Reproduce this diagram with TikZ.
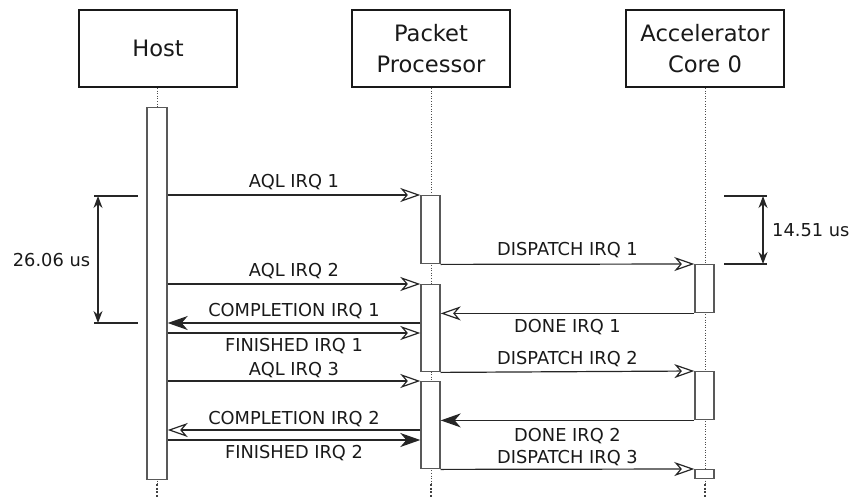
\documentclass[tikz,border=0pt]{standalone}
\usepackage{fontspec}
\setmainfont{DejaVu Sans}
\usetikzlibrary{arrows.meta}
\begin{document}
\begin{tikzpicture}[x=1pt,y=-1pt,
  actor/.style={draw=black!90, line width=2.2pt, fill=white, minimum width=158pt, minimum height=77pt, align=center, font=\fontsize{22.6}{31}\selectfont, inner sep=0pt, text=black!90},
  bar/.style={draw=black!65, line width=1.4pt, fill=white, minimum width=19pt, inner sep=0pt, anchor=north},
  life/.style={draw=black!70, line width=0.6pt, dotted},
  enddots/.style={draw=black!75, line width=2pt, dash pattern=on 2pt off 1.6pt},
  msg/.style={draw=black!85, line width=1.2pt},
  openhead/.style={-{Stealth[open, length=20pt, width=14pt, inset=6pt, line width=1.2pt]}},
  fillhead/.style={-{Stealth[length=20pt, width=14pt, inset=6pt]}},
  lbl/.style={font=\fontsize{17.8}{20}\selectfont, inner sep=0pt, text height=13pt, text depth=0pt, text=black!90},
  tick/.style={draw=black!85, line width=1.4pt},
  dim/.style={draw=black!85, line width=1.3pt, {Stealth[length=12pt, width=9pt]}-{Stealth[length=12pt, width=9pt]}},
]
\useasboundingbox (0,0) rectangle (861,497);

% actors
\node[actor] (host) at (158,48.5) {Host};
\node[actor] (pp) at (431,48.5) {Packet\\Processor};
\node[actor] (acc) at (705,48.5) {Accelerator\\Core 0};

% lifeline end points
\coordinate (hdots) at (157,484);
\coordinate (hend) at (157,497);
\coordinate (pdots) at (431,484);
\coordinate (pend) at (431,497);
\coordinate (adots) at (705,484);
\coordinate (aend) at (705,497);

% lifelines
\draw[life] (host.south -| hdots) -- (hdots);
\draw[enddots] (hdots) -- (hend);
\draw[life] (pp.south -| pdots) -- (pdots);
\draw[enddots] (pdots) -- (pend);
\draw[life] (acc.south -| adots) -- (adots);
\draw[enddots] (adots) -- (aend);

% activation bars
\node[bar, minimum width=20pt, minimum height=372pt] (hb) at (157,107) {};
\node[bar, minimum height=68pt] (pb1) at (430.5,195) {};
\node[bar, minimum height=87pt] (pb2) at (430.5,284) {};
\node[bar, minimum height=87pt] (pb3) at (430.5,381) {};
\node[bar, minimum height=48pt] (ab1) at (704.5,264) {};
\node[bar, minimum height=48pt] (ab2) at (704.5,371) {};
\node[bar, minimum height=9pt] (ab3) at (704.5,469) {};

% message levels
\coordinate (c1) at (0,323);
\coordinate (f1) at (0,333);
\coordinate (c2) at (0,430);
\coordinate (f2) at (0,440);

% host <-> packet processor
\draw[msg, openhead] (hb.east |- pb1.north) -- node[lbl, midway, yshift=14pt] {AQL IRQ 1} (pb1.north west);
\draw[msg, openhead] (hb.east |- pb2.north) -- node[lbl, midway, yshift=14pt] {AQL IRQ 2} (pb2.north west);
\draw[msg, fillhead] (pb2.west |- c1) -- node[lbl, midway, yshift=13pt] {COMPLETION IRQ 1} (hb.east |- c1);
\draw[msg, openhead] (hb.east |- f1) -- node[lbl, midway, yshift=-12pt] {FINISHED IRQ 1} (pb2.west |- f1);
\draw[msg, openhead] (hb.east |- pb3.north) -- node[lbl, midway, yshift=12pt] {AQL IRQ 3} (pb3.north west);
\draw[msg, openhead] (pb3.west |- c2) -- node[lbl, midway, yshift=12pt] {COMPLETION IRQ 2} (hb.east |- c2);
\draw[msg, fillhead] (hb.east |- f2) -- node[lbl, midway, yshift=-12pt] {FINISHED IRQ 2} (pb3.west |- f2);

% packet processor <-> accelerator
\draw[msg, openhead] (pb1.south east) -- node[lbl, midway, yshift=15pt] {DISPATCH IRQ 1} (ab1.north west);
\draw[msg, openhead] (ab1.south west) -- node[lbl, midway, yshift=-13pt] {DONE IRQ 1} (pb2.east |- ab1.south);
\draw[msg, openhead] (pb2.south east) -- node[lbl, midway, yshift=13.5pt] {DISPATCH IRQ 2} (ab2.north west);
\draw[msg, fillhead] (ab2.south west) -- node[lbl, midway, yshift=-15pt] {DONE IRQ 2} (pb3.east |- ab2.south);
\draw[msg, openhead] (pb3.south east) -- node[lbl, midway, yshift=12pt] {DISPATCH IRQ 3} (ab3.north west);

% measurement 26.06 us
\coordinate (m1a) at (94,196);
\coordinate (m1b) at (138,196);
\coordinate (m1c) at (94,323);
\coordinate (m1d) at (138,323);
\coordinate (m1t) at (98,196);
\coordinate (m1u) at (98,323);
\draw[tick] (m1a) -- (m1b);
\draw[tick] (m1c) -- (m1d);
\draw[dim] (m1t) -- (m1u);
\node[lbl] (m1l) at (51.5,259.5) {26.06 us};

% measurement 14.51 us
\coordinate (m2a) at (724,196);
\coordinate (m2b) at (767,196);
\coordinate (m2c) at (724,264);
\coordinate (m2d) at (767,264);
\coordinate (m2t) at (763,196);
\coordinate (m2u) at (763,264);
\draw[tick] (m2a) -- (m2b);
\draw[tick] (m2c) -- (m2d);
\draw[dim] (m2t) -- (m2u);
\node[lbl, anchor=west] (m2l) at (772,230) {14.51 us};
\end{tikzpicture}
\end{document}
